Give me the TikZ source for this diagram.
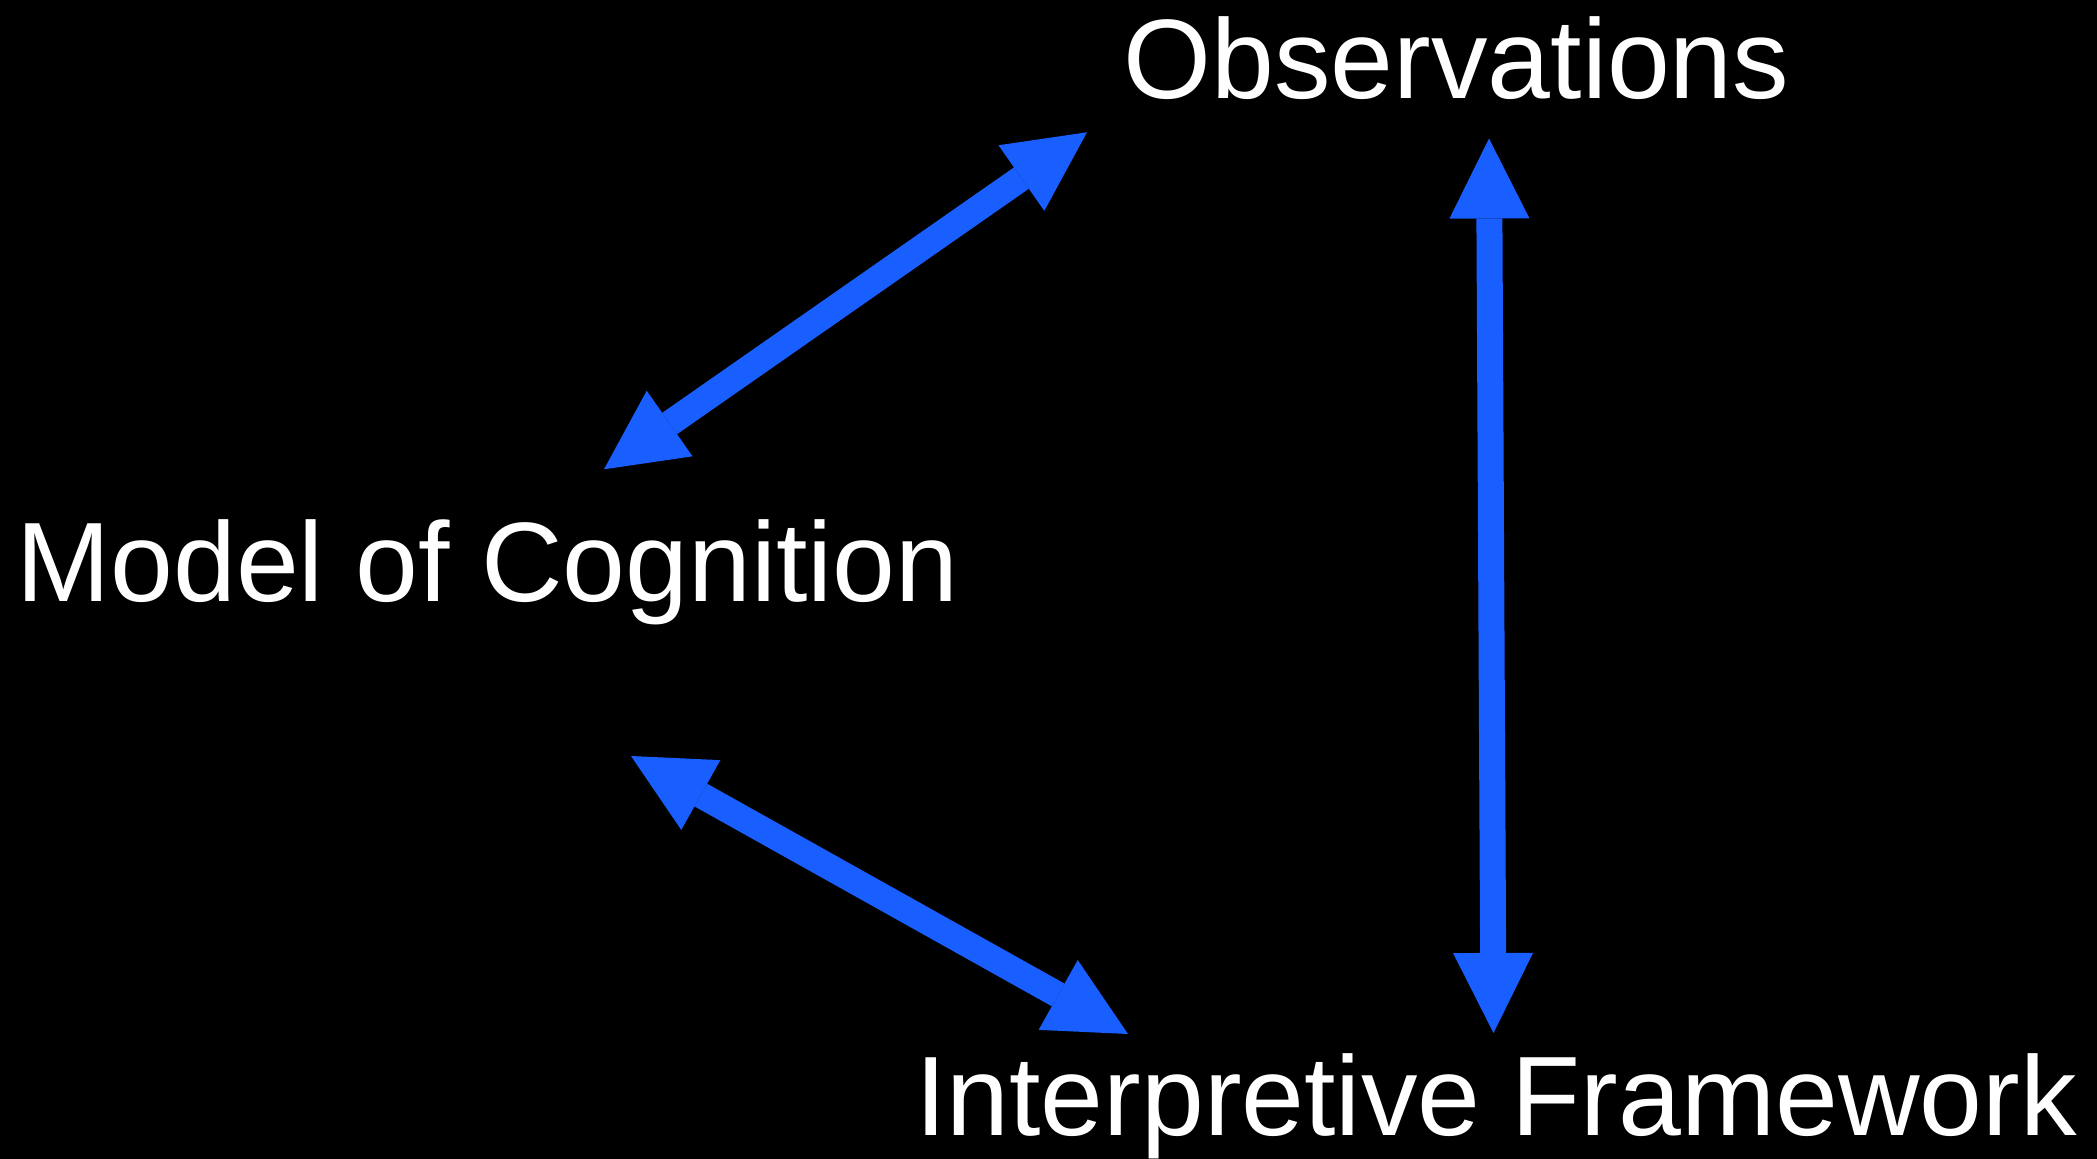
\documentclass[tikz,border=0pt]{standalone}
\usepackage{fontspec}
\setmainfont{Liberation Sans}
\usetikzlibrary{arrows.meta}
\definecolor{arrowblue}{RGB}{25,94,255}
\tikzset{
  label text/.style={text=white, inner sep=0pt, anchor=base, font=\fontsize{56.5pt}{68pt}\selectfont},
  link/.style={draw=arrowblue, line width=13pt,
    {Triangle[length=40pt,width=40pt,line width=0pt]}-{Triangle[length=40pt,width=40pt,line width=0pt]}}
}
\begin{document}
\begin{tikzpicture}[x=0.5pt,y=-0.5pt]
  \fill[black] (0,0) rectangle (2097,1159);
  \useasboundingbox (0,0) rectangle (2097,1159);
  \node[label text] (obs) at (1456.5,99) {Observations};
  \node[label text] (model) at (487.5,602) {Model of Cognition};
  \node[label text] (interp) at (1496,1135) {Interpretive Framework};
  % arrow end points
  \coordinate (m1) at (604,469.3);
  \coordinate (o1) at (1087,132.3);
  \coordinate (o2) at (1489,138.5);
  \coordinate (i2) at (1493.5,1033);
  \coordinate (m3) at (631,756);
  \coordinate (i3) at (1128,1034);
  \draw[link] (m1) -- (o1);
  \draw[link] (o2) -- (i2);
  \draw[link] (m3) -- (i3);
\end{tikzpicture}
\end{document}
